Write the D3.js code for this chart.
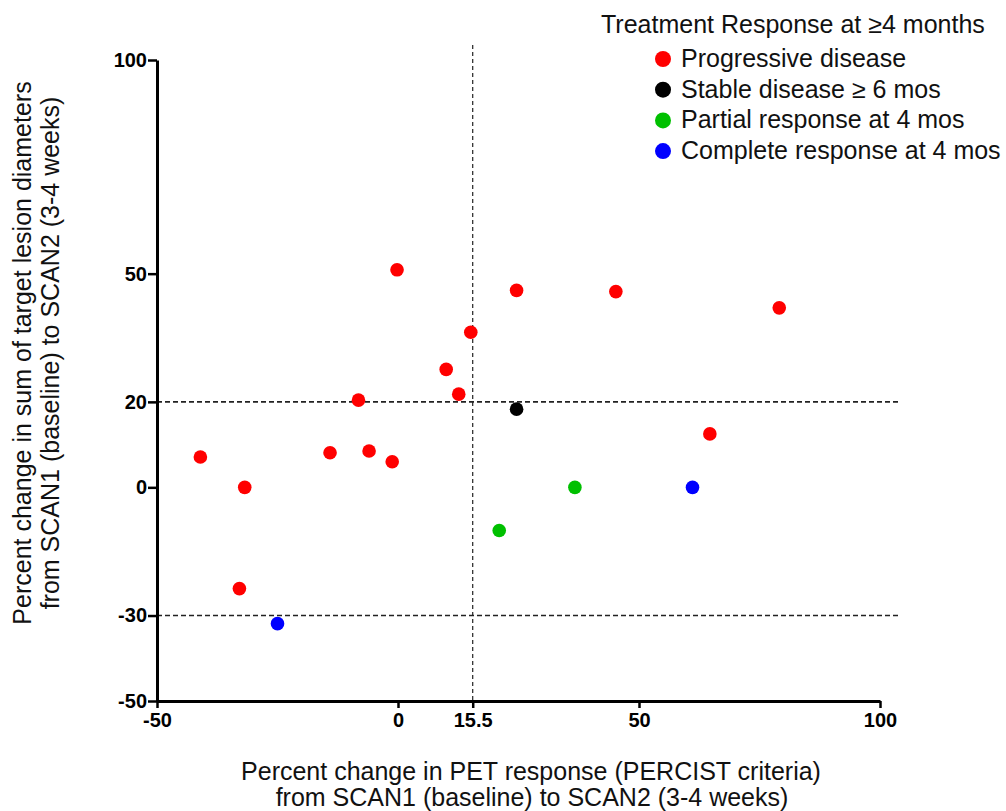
<!DOCTYPE html>
<html>
<head>
<meta charset="utf-8">
<script src="https://cdn.jsdelivr.net/npm/d3@7"></script>
<style>
  body { margin: 0; background: #fff; }
  svg { font-family: Arial, "Liberation Sans", sans-serif; }
</style>
</head>
<body>
<svg id="chart"></svg>
<script>
// response groups
const groups = ["Progressive disease", "Stable disease \u2265 6 mos", "Partial response at 4 mos", "Complete response at 4 mos"];
const groupColors = ["#ff0000", "#000000", "#00c000", "#0000ff"];

// PET change (x) vs. lesion diameter change (y), one array pair per group
const progX = [-0.2, 24.6, 45.2, 79.1, 15.1, 10.0, 12.6, -8.2, -41.0, -31.8, -14.1, -6.0, -1.2, 64.7, -32.9];
const progY = [50.9, 46.1, 45.8, 42.0, 36.3, 27.6, 21.8, 20.4, 7.1, 0, 8.1, 8.5, 6.0, 12.5, -23.7];
const stableX = [24.6];
const stableY = [18.3];
const partialX = [36.7, 21.0];
const partialY = [0, -10.1];
const completeX = [61.1, -25.0];
const completeY = [0, -31.9];

const xTicks = [-50, 0, 15.5, 50, 100];
const yTicks = [-50, -30, 0, 20, 50, 100];
const xCut = 15.5;
const yCuts = [20, -30];

const width = 1006, height = 811;
const svg = d3.select("#chart").attr("width", width).attr("height", height);

const x = d3.scaleLinear().domain([-50, 100]).range([157, 880]);
const y = d3.scaleLinear().domain([-50, 100]).range([701, 60]);

const points = [];
[[progX, progY], [stableX, stableY], [partialX, partialY], [completeX, completeY]].forEach(([xs, ys], gi) => {
  xs.forEach((v, i) => points.push({ x: v, y: ys[i], g: gi }));
});

// reference lines
svg.append("line")
  .attr("x1", x(xCut)).attr("x2", x(xCut))
  .attr("y1", 45).attr("y2", y(-50))
  .attr("stroke", "#222").attr("stroke-width", 1.2)
  .attr("stroke-dasharray", "4,3");

svg.selectAll(".hcut")
  .data(yCuts)
  .enter().append("line")
  .attr("class", "hcut")
  .attr("x1", x(-50)).attr("x2", 900)
  .attr("y1", d => y(d)).attr("y2", d => y(d))
  .attr("stroke", "#222").attr("stroke-width", 1.6)
  .attr("stroke-dasharray", "5,3");

// axes
const xAxis = svg.append("g")
  .attr("transform", `translate(0,${y(-50)})`)
  .call(d3.axisBottom(x).tickValues(xTicks).tickFormat(d => d).tickSize(7).tickSizeOuter(0));
const yAxis = svg.append("g")
  .attr("transform", `translate(${x(-50)},0)`)
  .call(d3.axisLeft(y).tickValues(yTicks).tickFormat(d => d).tickSize(9).tickSizeOuter(0));

[xAxis, yAxis].forEach(a => {
  a.select(".domain").attr("stroke", "#000").attr("stroke-width", 3);
  a.selectAll(".tick line").attr("stroke", "#000").attr("stroke-width", 2.5);
  a.selectAll(".tick text")
    .attr("fill", "#000")
    .style("font-size", "20px")
    .style("font-weight", "bold")
    .style("font-family", "Arial, 'Liberation Sans', sans-serif");
});
xAxis.selectAll(".tick text").attr("y", 11).attr("dy", "0.75em");
yAxis.selectAll(".tick text").attr("x", -10);

// points
svg.append("g").selectAll("circle")
  .data(points)
  .enter().append("circle")
  .attr("cx", d => x(d.x))
  .attr("cy", d => y(d.y))
  .attr("r", 6.8)
  .attr("fill", d => groupColors[d.g]);

// axis titles
const titleSize = 25;
const xTitle = svg.append("text")
  .attr("text-anchor", "middle")
  .attr("font-size", titleSize)
  .attr("fill", "#111");
xTitle.append("tspan").attr("x", 531).attr("y", 780).text("Percent change in PET response (PERCIST criteria)");
xTitle.append("tspan").attr("x", 532).attr("y", 806).text("from SCAN1 (baseline) to SCAN2 (3-4 weeks)");

const yTitle = svg.append("text")
  .attr("text-anchor", "middle")
  .attr("font-size", titleSize)
  .attr("fill", "#111")
  .attr("transform", "translate(0,353) rotate(-90)");
yTitle.append("tspan").attr("x", 0).attr("y", 31).text("Percent change in sum of target lesion diameters");
yTitle.append("tspan").attr("x", 0).attr("y", 59).text("from SCAN1 (baseline) to SCAN2 (3-4 weeks)");

// legend
const legend = svg.append("g");
legend.append("text")
  .attr("x", 601).attr("y", 33)
  .attr("font-size", titleSize)
  .attr("fill", "#111")
  .text("Treatment Response at \u22654 months");

const item = legend.selectAll(".item")
  .data(groups)
  .enter().append("g")
  .attr("class", "item")
  .attr("transform", (d, i) => `translate(663,${59 + i * 30.7})`);
item.append("circle").attr("r", 8).attr("fill", (d, i) => groupColors[i]);
item.append("text")
  .attr("x", 18).attr("y", 8)
  .attr("font-size", titleSize)
  .attr("fill", "#111")
  .text(d => d);
</script>
</body>
</html>
